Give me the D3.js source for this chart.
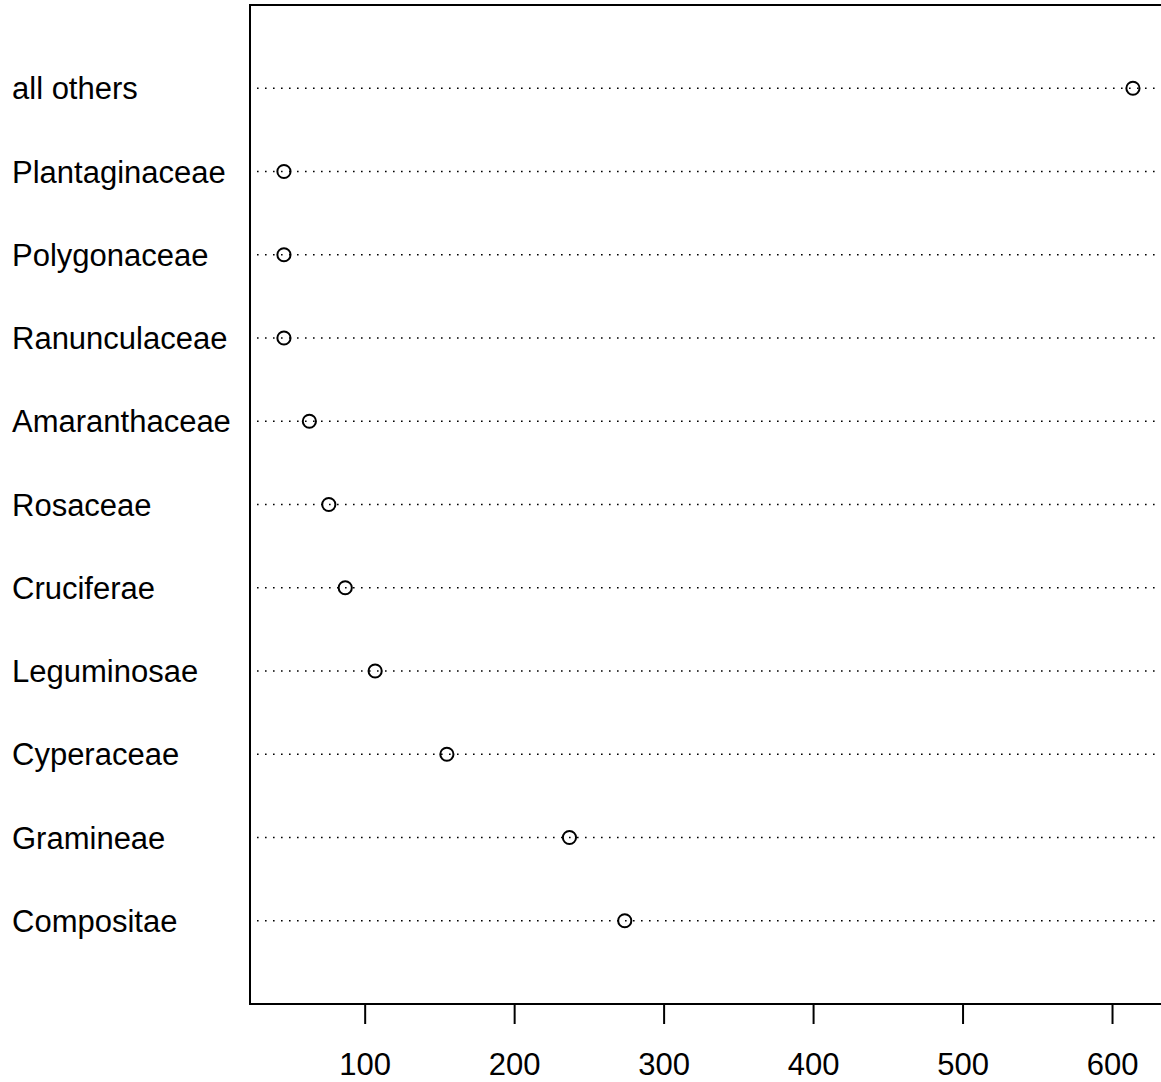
<!DOCTYPE html>
<html>
<head>
<meta charset="utf-8">
<script src="https://cdn.jsdelivr.net/npm/d3@7"></script>
<style>
  html, body { margin: 0; padding: 0; background: #fff; }
  svg { display: block; }
  text { font-family: "Liberation Sans", Arial, Helvetica, sans-serif; fill: #000; }
</style>
</head>
<body>
<svg id="chart" width="1161" height="1082"></svg>
<script>
// Data (bottom to top, as in the chart)
const categories = ["Compositae", "Gramineae", "Cyperaceae", "Leguminosae", "Cruciferae",
  "Rosaceae", "Amaranthaceae", "Ranunculaceae", "Polygonaceae", "Plantaginaceae", "all others"];
const counts = [274, 237, 155, 107, 87, 76, 63, 46, 46, 46, 614];
const xTicks = [100, 200, 300, 400, 500, 600];

(function () {
const svg = d3.select("#chart");
const plotLeft = 250, plotTop = 5, plotBottom = 1004;
const pxPerUnit = 1.4947;

const [mn, mx] = d3.extent(counts);
const pad = (mx - mn) * 0.04;
const x = d3.scaleLinear()
  .domain([mn - pad, mx + pad])
  .range([plotLeft, plotLeft + (mx - mn + 2 * pad) * pxPerUnit]);
const plotRight = x.range()[1];

const y = d3.scaleLinear().domain([0, categories.length + 1]).range([plotBottom, plotTop]);

// dotted guide lines
svg.append("g").selectAll("line").data(categories).join("line")
  .attr("x1", plotLeft).attr("x2", plotRight)
  .attr("y1", (d, i) => y(i + 1)).attr("y2", (d, i) => y(i + 1))
  .attr("stroke", "#000").attr("stroke-width", 1.6)
  .attr("stroke-dasharray", "1.6,6.4")
  .attr("stroke-dashoffset", -7);

// points
svg.append("g").selectAll("circle").data(counts).join("circle")
  .attr("cx", d => x(d)).attr("cy", (d, i) => y(i + 1))
  .attr("r", 6.6).attr("fill", "none").attr("stroke", "#000").attr("stroke-width", 2);

// labels
svg.append("g").selectAll("text").data(categories).join("text")
  .attr("x", 12).attr("y", (d, i) => y(i + 1) + 11)
  .attr("font-size", 31).text(d => d);

// box
svg.append("rect")
  .attr("x", plotLeft).attr("y", plotTop).attr("width", plotRight - plotLeft + 10).attr("height", plotBottom - plotTop)
  .attr("fill", "none").attr("stroke", "#000").attr("stroke-width", 2);

// x axis
const axis = d3.axisBottom(x).tickValues(xTicks).tickSize(20).tickPadding(0).tickSizeOuter(0);
const ga = svg.append("g").attr("transform", `translate(0,${plotBottom})`).call(axis);
ga.select(".domain").remove();
ga.selectAll(".tick line").attr("stroke", "#000").attr("stroke-width", 2);
ga.selectAll(".tick text")
  .attr("font-size", 31).attr("font-family", "Liberation Sans, Arial, sans-serif")
  .attr("fill", "#000").attr("dy", null).attr("y", 71);
})();
</script>
</body>
</html>
